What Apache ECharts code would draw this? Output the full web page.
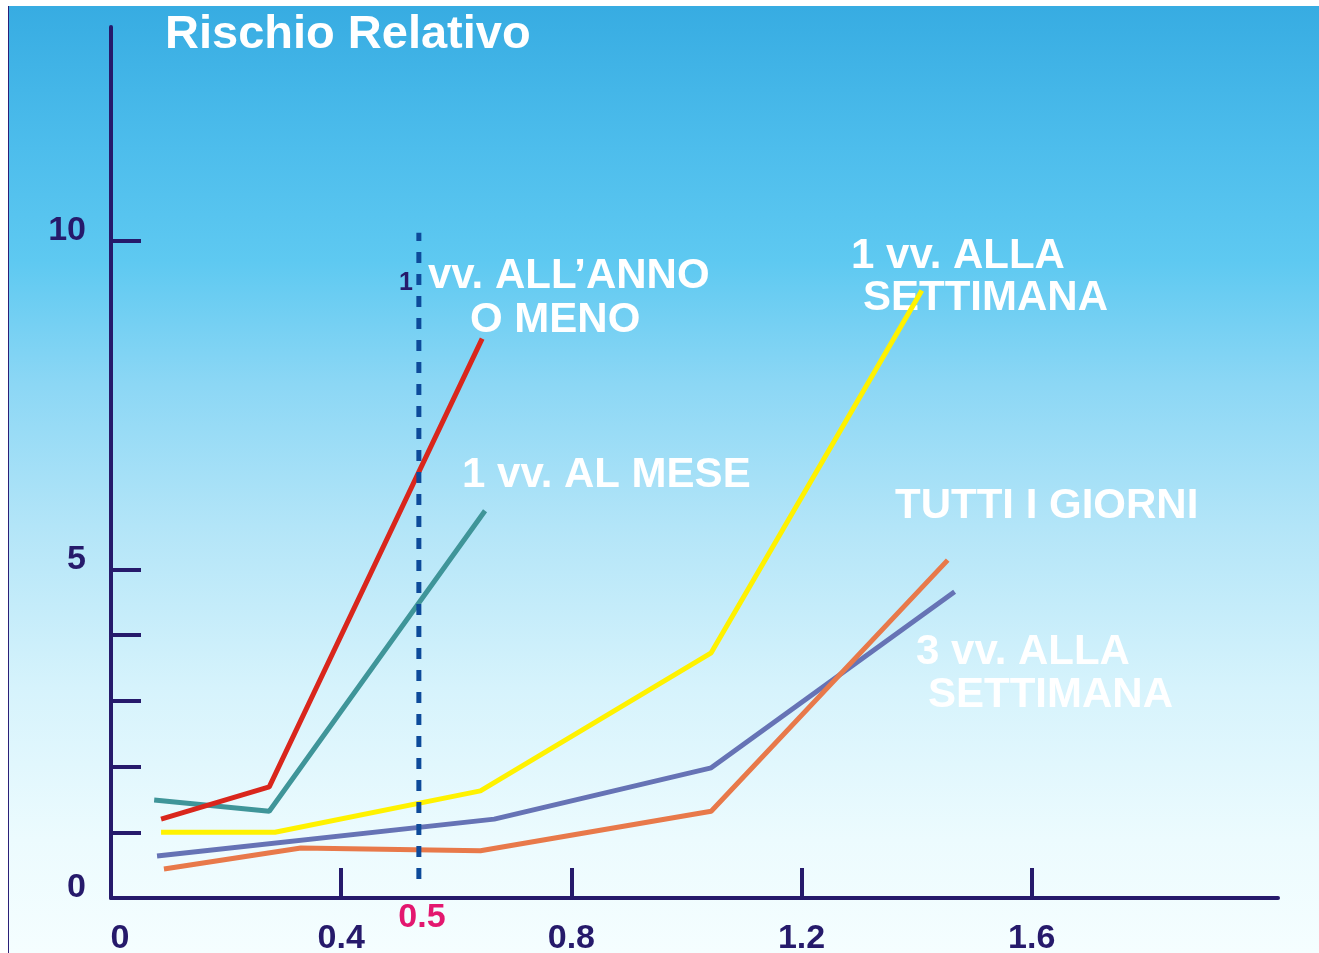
<!DOCTYPE html>
<html>
<head>
<meta charset="utf-8">
<script src="https://cdn.jsdelivr.net/npm/echarts@6/dist/echarts.min.js"></script>
<style>
  html, body { margin: 0; padding: 0; background: #ffffff; }
  #bg {
    position: absolute; left: 8px; top: 6px; width: 1311px; height: 947px;
    border-left: 1px solid #2b1f78;
    background: linear-gradient(to bottom, #37ace2 0%, #4dbdec 15%, #5ec9f1 27%, #8cd7f5 40%, #b3e5f8 55%, #d6f3fc 72%, #ecfbfe 88%, #f5feff 100%);
  }
  #chart { position: absolute; left: 0; top: 0; width: 1319px; height: 953px; }
</style>
</head>
<body>
<div id="bg"></div>
<div id="chart"></div>
<script>
// dati (x, rischio relativo)
const annoMeno = [[0.087, 1.20], [0.275, 1.69], [0.645, 8.51]]
const alMese = [[0.075, 1.49], [0.275, 1.32], [0.650, 5.89]]
const settimana1 = [[0.087, 1.00], [0.285, 1.00], [0.642, 1.63], [1.043, 3.73], [1.409, 9.24]]
const settimana3 = [[0.080, 0.64], [0.666, 1.20], [1.043, 1.98], [1.466, 4.66]]
const tuttiGiorni = [[0.092, 0.44], [0.330, 0.76], [0.642, 0.72], [1.043, 1.32], [1.454, 5.14]]
const soglia = [[0.535, 0.29], [0.535, 10.12]]

const xTicks = [0.4, 0.8, 1.2, 1.6]
const xLabels = [0, 0.4, 0.8, 1.2, 1.6]
const yTicks = [1, 2, 3, 4, 5, 10]
const yLabels = [0, 5, 10]

const navy = '#261a6b'
const fam = '"Liberation Sans", Arial, sans-serif'
const labelFont = 'bold 42px ' + fam

const chart = echarts.init(document.getElementById('chart'))

function lineSeries(data, color, z) {
  return {
    type: 'line',
    data: data,
    symbol: 'none',
    z: z,
    lineStyle: { color: color, width: 5 },
    animation: false
  }
}

function label(text, x, y, opts) {
  return {
    type: 'text',
    x: x,
    y: y,
    z: 1,
    style: Object.assign({
      text: text,
      fill: '#ffffff',
      font: labelFont,
      verticalAlign: 'middle'
    }, opts || {})
  }
}

const option = {
  backgroundColor: 'transparent',
  animation: false,
  grid: { left: 111, right: 41, top: 27, bottom: 55, outerBoundsMode: 'none', containLabel: false },
  xAxis: {
    type: 'value',
    min: 0,
    max: 2.028,
    axisLine: { lineStyle: { color: navy, width: 4 } },
    axisTick: { inside: true, length: 30, customValues: xTicks, lineStyle: { color: navy, width: 4 } },
    axisLabel: {
      customValues: xLabels,
      margin: 24,
      color: navy,
      fontSize: 34,
      fontWeight: 'bold',
      fontFamily: fam,
      formatter: v => v === 0 ? '{z|0}' : String(v),
      rich: { z: { padding: [0, 0, 0, 18], color: navy, fontSize: 34, fontWeight: 'bold', fontFamily: fam } }
    },
    splitLine: { show: false }
  },
  yAxis: {
    type: 'value',
    min: 0,
    max: 13.25,
    axisLine: { lineStyle: { color: navy, width: 4 } },
    axisTick: { inside: true, length: 30, customValues: yTicks, lineStyle: { color: navy, width: 4 } },
    axisLabel: {
      customValues: yLabels,
      margin: 25,
      color: navy,
      fontSize: 34,
      fontWeight: 'bold',
      fontFamily: fam,
      verticalAlign: 'bottom',
      lineHeight: 20
    },
    splitLine: { show: false }
  },
  series: [
    lineSeries(alMese, '#3f9599', 2),
    lineSeries(annoMeno, '#d9261c', 3),
    lineSeries(settimana3, '#6673b5', 3),
    lineSeries(tuttiGiorni, '#e8794a', 4),
    lineSeries(settimana1, '#fff200', 5),
    {
      type: 'line',
      data: soglia,
      symbol: 'none',
      z: 6,
      lineStyle: { color: '#0d4a9a', width: 5, type: [11, 11] }
    }
  ],
  graphic: [
    label('Rischio Relativo', 165, 35, { font: 'bold 47px ' + fam }),
    label('1', 399, 283, { fill: navy, font: 'bold 25px ' + fam }),
    label('vv. ALL\u2019ANNO', 428, 276),
    label('O MENO', 470, 320),
    label('1 vv. AL MESE', 462, 475),
    label('1 vv. ALLA', 851, 256),
    label('SETTIMANA', 863, 298),
    label('TUTTI I GIORNI', 895, 506),
    label('3 vv. ALLA', 916, 652),
    label('SETTIMANA', 928, 695),
    label('0.5', 422, 918, { fill: '#e3176f', font: 'bold 34px ' + fam, align: 'center' })
  ]
}

chart.setOption(option)
</script>
</body>
</html>
